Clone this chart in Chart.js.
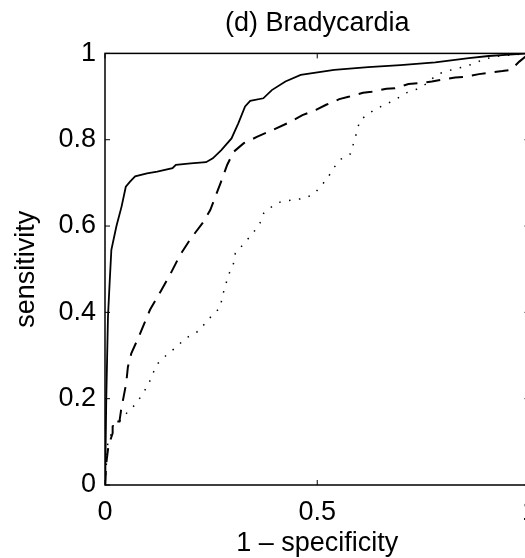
<!DOCTYPE html>
<html>
<head>
<meta charset="utf-8">
<script src="https://cdn.jsdelivr.net/npm/chart.js@4/dist/chart.umd.min.js"></script>
<style>
  html, body { margin: 0; padding: 0; background: #fff; overflow: hidden; }
  #wrap { width: 525px; height: 558px; overflow: hidden; }
  canvas { display: block; }
</style>
</head>
<body>
<div id="wrap"><canvas id="roc" width="548" height="558"></canvas></div>
<script>
// 축 눈금
const xTicks = [0, 0.5, 1];
const yTicks = [0, 0.2, 0.4, 0.6, 0.8, 1];

// 실선 곡선 (1 - specificity, sensitivity)
const solidX = [0, 0.001, 0.003, 0.007, 0.011, 0.015, 0.027, 0.039, 0.049, 0.059, 0.071, 0.099, 0.123, 0.159,
  0.167, 0.202, 0.238, 0.254, 0.274, 0.298, 0.314, 0.33, 0.342, 0.373, 0.393, 0.425, 0.461, 0.54, 0.62, 0.696,
  0.778, 0.857, 0.904, 0.952, 1];
const solidY = [0, 0.05, 0.2, 0.39, 0.47, 0.545, 0.6, 0.645, 0.691, 0.703, 0.715, 0.722, 0.726, 0.734,
  0.742, 0.745, 0.748, 0.757, 0.776, 0.803, 0.838, 0.877, 0.89, 0.896, 0.915, 0.935, 0.95, 0.962, 0.968, 0.973,
  0.979, 0.989, 0.994, 0.997, 1];

// 파선 곡선
const dashedX = [0, 0.003, 0.008, 0.018, 0.018, 0.034, 0.038, 0.05, 0.054, 0.062, 0.078, 0.106, 0.133, 0.153,
  0.177, 0.2, 0.232, 0.248, 0.272, 0.288, 0.303, 0.327, 0.359, 0.398, 0.438, 0.465, 0.497, 0.521, 0.552, 0.576,
  0.608, 0.628, 0.663, 0.683, 0.715, 0.738, 0.77, 0.794, 0.825, 0.849, 0.881, 0.904, 0.936, 0.956, 0.976, 1];
const dashedY = [0, 0.05, 0.09, 0.12, 0.147, 0.147, 0.174, 0.236, 0.274, 0.305, 0.34, 0.406, 0.452, 0.487,
  0.533, 0.568, 0.61, 0.637, 0.699, 0.742, 0.772, 0.792, 0.807, 0.824, 0.842, 0.857, 0.869, 0.881, 0.894, 0.9,
  0.909, 0.911, 0.918, 0.919, 0.929, 0.931, 0.935, 0.939, 0.944, 0.946, 0.952, 0.955, 0.959, 0.962, 0.981, 1];

// 점선 곡선
const dottedX = [0, 0.004, 0.007, 0.019, 0.019, 0.034, 0.054, 0.074, 0.102, 0.113, 0.125, 0.149, 0.169, 0.189,
  0.2, 0.224, 0.24, 0.252, 0.272, 0.276, 0.284, 0.291, 0.302, 0.307, 0.335, 0.351, 0.367, 0.374, 0.382, 0.406,
  0.438, 0.469, 0.492, 0.509, 0.525, 0.538, 0.556, 0.578, 0.586, 0.594, 0.6, 0.62, 0.635, 0.658, 0.683, 0.708,
  0.734, 0.76, 0.779, 0.79, 0.817, 0.841, 0.869, 0.893, 0.93, 1];
const dottedY = [0, 0.06, 0.104, 0.125, 0.143, 0.147, 0.17, 0.189, 0.232, 0.259, 0.282, 0.305, 0.32, 0.34,
  0.345, 0.359, 0.381, 0.392, 0.412, 0.436, 0.463, 0.487, 0.51, 0.537, 0.568, 0.587, 0.61, 0.63, 0.637, 0.654,
  0.66, 0.664, 0.674, 0.693, 0.712, 0.734, 0.755, 0.767, 0.793, 0.821, 0.844, 0.86, 0.869, 0.881, 0.892, 0.908,
  0.917, 0.931, 0.949, 0.954, 0.962, 0.968, 0.976, 0.987, 0.994, 1];

function toPoints(xs, ys) {
  return xs.map((x, i) => ({ x: x, y: ys[i] }));
}

const FONT = 'Liberation Sans, Arial, Helvetica, sans-serif';

// MATLAB 스타일 상자 + 안쪽 눈금
const boxPlugin = {
  id: 'boxTicks',
  afterDatasetsDraw(chart) {
    const { ctx, chartArea: a, scales } = chart;
    const len = 5;
    ctx.save();
    ctx.strokeStyle = '#000';
    ctx.lineWidth = 1.5;
    ctx.strokeRect(a.left, a.top, a.right - a.left, a.bottom - a.top);
    ctx.lineWidth = 1;
    ctx.beginPath();
    xTicks.forEach(v => {
      const px = scales.x.getPixelForValue(v);
      ctx.moveTo(px, a.bottom); ctx.lineTo(px, a.bottom - len);
      ctx.moveTo(px, a.top); ctx.lineTo(px, a.top + len);
    });
    yTicks.forEach(v => {
      const py = scales.y.getPixelForValue(v);
      ctx.moveTo(a.left, py); ctx.lineTo(a.left + len, py);
      ctx.moveTo(a.right, py); ctx.lineTo(a.right - len, py);
    });
    ctx.stroke();
    ctx.restore();
  }
};

const bgPlugin = {
  id: 'bg',
  beforeDraw(chart) {
    const ctx = chart.ctx;
    ctx.save();
    ctx.fillStyle = '#fff';
    ctx.fillRect(0, 0, chart.width, chart.height);
    ctx.restore();
  }
};

new Chart(document.getElementById('roc'), {
  type: 'scatter',
  data: {
    datasets: [
      { label: 'solid', data: toPoints(solidX, solidY), showLine: true, borderColor: '#000',
        borderWidth: 1.8, pointRadius: 0, tension: 0 },
      { label: 'dashed', data: toPoints(dashedX, dashedY), showLine: true, borderColor: '#000',
        borderWidth: 2, borderDash: [14, 9], pointRadius: 0, tension: 0 },
      { label: 'dotted', data: toPoints(dottedX, dottedY), showLine: true, borderColor: '#000',
        borderWidth: 1.5, borderDash: [1.5, 8.5], pointRadius: 0, tension: 0 }
    ]
  },
  options: {
    responsive: false,
    animation: false,
    devicePixelRatio: 1,
    layout: { padding: { left: 0, right: 0, top: 0, bottom: 0 } },
    plugins: {
      legend: { display: false },
      tooltip: { enabled: false },
      title: {
        display: true,
        fullSize: false,
        text: '(d) Bradycardia',
        color: '#000',
        font: { family: FONT, size: 27, weight: 'normal' },
        padding: { top: 7, bottom: 14 }
      }
    },
    scales: {
      x: {
        type: 'linear', min: 0, max: 1,
        afterBuildTicks: s => { s.ticks = xTicks.map(v => ({ value: v })); },
        afterFit: s => { s.height = 73; },
        grid: { display: false, drawTicks: false },
        border: { display: false },
        ticks: {
          color: '#000', padding: 11, maxRotation: 0,
          font: { family: FONT, size: 27 },
          callback: v => String(v)
        },
        title: {
          display: true, text: '1 – specificity', color: '#000',
          font: { family: FONT, size: 27, lineHeight: 1 }, padding: { top: 0, bottom: 0.5 }
        }
      },
      y: {
        type: 'linear', min: 0, max: 1,
        afterBuildTicks: s => { s.ticks = yTicks.map(v => ({ value: v })); },
        afterFit: s => { s.width = 105; },
        grid: { display: false, drawTicks: false },
        border: { display: false },
        ticks: {
          color: '#000', padding: 9,
          font: { family: FONT, size: 27 },
          callback: v => String(v)
        },
        title: {
          display: true, text: 'sensitivity', color: '#000',
          font: { family: FONT, size: 27 }, padding: { top: 10, bottom: 0 }
        }
      }
    }
  },
  plugins: [bgPlugin, boxPlugin]
});
</script>
</body>
</html>
